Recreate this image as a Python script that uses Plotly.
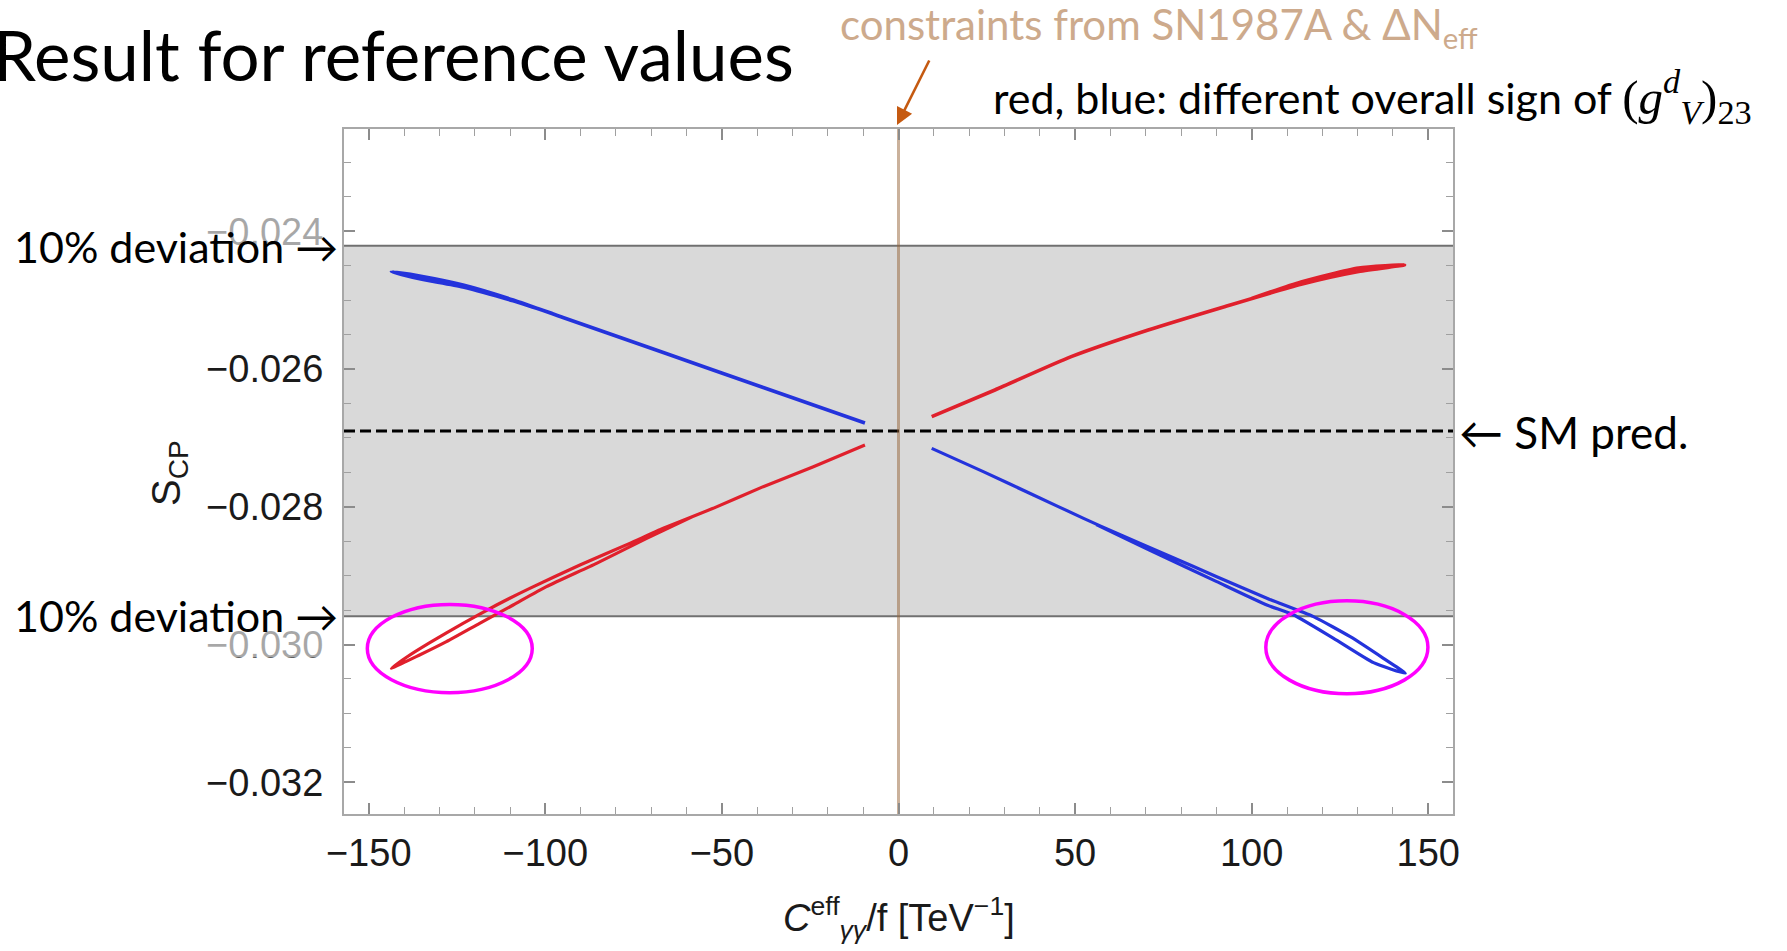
import plotly.graph_objects as go

# ---------------- data ----------------
SM_PRED = -0.0269            # dashed line, SM prediction of S_CP
BAND_UPPER = -0.02421        # +10 % deviation
BAND_LOWER = -0.02959        # -10 % deviation

# blue, negative C (upper-left branch; slightly thickened loop at its far end)
blue_left_x = [-9.5, -24.1, -38.3, -52.5, -66.6, -80.8, -95.0, -109.1, -123.3, -135.6, -143.6,
               -135.6, -123.3, -109.1, -98.0]
blue_left_y = [-0.026784, -0.026523, -0.026269, -0.026015, -0.025760, -0.025506, -0.025252,
               -0.024998, -0.024781, -0.024650, -0.024588,
               -0.024690, -0.024808, -0.025010, -0.025195]

# blue, positive C (lower-right branch, thin loop: out along one strand, back along the other)
blue_right_x = [9.4, 24.0, 38.2, 52.4, 61.8, 76.0, 90.1, 104.3, 117.5, 127.9, 137.3, 143.5,
                134.5, 123.2, 111.9, 104.3, 90.1, 76.0, 66.0, 56.0]
blue_right_y = [-0.027152, -0.027490, -0.027829, -0.028168, -0.028385, -0.028700, -0.029015,
                -0.029329, -0.029595, -0.029886, -0.030200, -0.030418,
                -0.030263, -0.029910, -0.029571, -0.029426, -0.029087, -0.028748, -0.028505,
                -0.028260]

# red, negative C (lower-left branch, thin loop)
red_left_x = [-9.5, -24.1, -38.3, -52.5, -66.6, -76.1, -90.2, -104.4, -113.8, -123.3, -132.7,
              -139.3, -143.6, -135.6, -128.0, -118.6, -109.1, -99.7, -85.5, -71.3, -58.0]
red_left_y = [-0.027103, -0.027418, -0.027708, -0.028023, -0.028313, -0.028531, -0.028845,
              -0.029184, -0.029426, -0.029692, -0.029973, -0.030185, -0.030345,
              -0.030152, -0.029958, -0.029692, -0.029426, -0.029160, -0.028821, -0.028458, -0.028136]

# red, positive C (upper-right branch; slightly thickened loop at its far end)
red_right_x = [9.4, 27.3, 48.9, 70.7, 92.3, 114.0, 130.3, 143.3, 130.3, 114.0, 100.0]
red_right_y = [-0.026692, -0.026305, -0.025821, -0.025434, -0.025095, -0.024770, -0.024585,
               -0.024490, -0.024535, -0.024735, -0.024975]

# axes ticks
x_tick_vals = [-150, -100, -50, 0, 50, 100, 150]
x_tick_text = ["\u2212150", "\u2212100", "\u221250", "0", "50", "100", "150"]
y_tick_vals = [-0.024, -0.026, -0.028, -0.030, -0.032]
y_tick_text = ["\u22120.024", "\u22120.026", "\u22120.028", "\u22120.030", "\u22120.032"]
x_minor_vals = [v for v in range(-150, 151, 10)]
y_minor_vals = [round(-0.0225 - 0.0005 * i, 5) for i in range(0, 21)]

X_RANGE = [-157.0, 157.0]
Y_RANGE = [-0.03246, -0.022516]

# ---------------- layout geometry ----------------
W, H = 1787, 951
ML, MR, MT, MB = 344, 334, 129, 137
PW, PH = W - ML - MR, H - MT - MB


def pxx(p):
    return (p - ML) / PW


def pxy(p):
    return 1 - (p - MT) / PH


BLUE = "#2433dc"
RED = "#e0202c"
SLIDE_FONT = "Lato, Carlito, 'Open Sans', sans-serif"
MATH_FONT = "'Liberation Sans', Arial, Helvetica, sans-serif"

fig = go.Figure()

fig.add_trace(go.Scatter(x=blue_left_x, y=blue_left_y, mode="lines",
                         line=dict(color=BLUE, width=3.6, shape="spline", smoothing=0.6),
                         hoverinfo="skip", showlegend=False))
fig.add_trace(go.Scatter(x=blue_right_x, y=blue_right_y, mode="lines",
                         line=dict(color=BLUE, width=3.2, shape="spline", smoothing=0.5),
                         hoverinfo="skip", showlegend=False))
fig.add_trace(go.Scatter(x=red_left_x, y=red_left_y, mode="lines",
                         line=dict(color=RED, width=3.2, shape="spline", smoothing=0.5),
                         hoverinfo="skip", showlegend=False))
fig.add_trace(go.Scatter(x=red_right_x, y=red_right_y, mode="lines",
                         line=dict(color=RED, width=3.6, shape="spline", smoothing=0.6),
                         hoverinfo="skip", showlegend=False))

# grey +-10 % band
fig.add_shape(type="rect", xref="paper", x0=0, x1=1, yref="y", y0=BAND_LOWER, y1=BAND_UPPER,
              fillcolor="#d9d9d9", line_width=0, layer="below")
for yv in (BAND_UPPER, BAND_LOWER):
    fig.add_shape(type="line", xref="paper", x0=0, x1=1, yref="y", y0=yv, y1=yv,
                  line=dict(color="#707070", width=2), layer="below")
# SM prediction
fig.add_shape(type="line", xref="paper", x0=0, x1=1, yref="y", y0=SM_PRED, y1=SM_PRED,
              line=dict(color="black", width=3, dash="11px,5px"), layer="below")
# constraint line at C = 0
fig.add_shape(type="line", xref="x", x0=0, x1=0, yref="paper", y0=0, y1=1,
              line=dict(color="rgba(150,100,55,0.5)", width=3), layer="below")

# magenta ellipses
fig.add_shape(type="circle", xref="x", yref="y", x0=-150.4, x1=-103.7, y0=-0.030699, y1=-0.029417,
              line=dict(color="#ff00ff", width=3.5), layer="above")
fig.add_shape(type="circle", xref="x", yref="y", x0=104.0, x1=149.9, y0=-0.030714, y1=-0.029366,
              line=dict(color="#ff00ff", width=3.5), layer="above")

ann = []
# title
ann.append(dict(text="Result for reference values", xref="paper", yref="paper",
                x=pxx(-9), y=pxy(54), xanchor="left", yanchor="middle", showarrow=False,
                font=dict(family=SLIDE_FONT, size=69, color="black")))
# constraints text
ann.append(dict(text="constraints from SN1987A &amp; \u0394N<sub>eff</sub>", xref="paper", yref="paper",
                x=pxx(838), y=pxy(27), xanchor="left", yanchor="middle", showarrow=False,
                font=dict(family=SLIDE_FONT, size=42, color="#cdaa8c")))
# orange arrow
ann.append(dict(text="", xref="paper", yref="paper", x=pxx(897), y=pxy(125),
                ax=33, ay=-66, axref="pixel", ayref="pixel", showarrow=True,
                arrowhead=2, arrowsize=1.3, arrowwidth=2.6, arrowcolor="#c55a11"))
# red/blue explanation
ann.append(dict(text=("red, blue: different overall sign of "
                      "<span style='font-family:Liberation Serif, DejaVu Serif, serif;font-size:49px'>"
                      "(<i>g</i><sup><i>d</i></sup><sub><i>V</i></sub>)<sub>23</sub></span>"),
                xref="paper", yref="paper", x=pxx(991), y=pxy(96), xanchor="left", yanchor="middle",
                showarrow=False, font=dict(family=SLIDE_FONT, size=43, color="black")))
# 10 % deviation labels with semi-transparent white boxes
for yc in (246, 615):
    ann.append(dict(text=" ", xref="paper", yref="paper", x=pxx(4), y=pxy(yc),
                    xanchor="left", yanchor="middle", showarrow=False, width=336, height=84,
                    bgcolor="rgba(255,255,255,0.62)", borderpad=0,
                    font=dict(size=10)))
    ann.append(dict(text="10% deviation \u2192", xref="paper", yref="paper", x=pxx(12), y=pxy(yc),
                    xanchor="left", yanchor="middle", showarrow=False,
                    font=dict(family=SLIDE_FONT, size=43, color="black")))
# SM pred label
ann.append(dict(text="\u2190 SM pred.", xref="paper", yref="paper", x=pxx(1457), y=pxy(432),
                xanchor="left", yanchor="middle", showarrow=False,
                font=dict(family=SLIDE_FONT, size=44, color="black")))
# axis titles
ann.append(dict(text="S<sub>CP</sub>", xref="paper", yref="paper", x=pxx(169), y=pxy(473),
                xanchor="center", yanchor="middle", textangle=-90, showarrow=False,
                font=dict(family=MATH_FONT, size=40, color="#1a1a1a")))
ann.append(dict(text="<i>C</i><sup>eff</sup><sub><i>\u03b3\u03b3</i></sub>/f [TeV<sup>\u22121</sup>]",
                xref="paper", yref="paper", x=pxx(899), y=pxy(918),
                xanchor="center", yanchor="middle", showarrow=False,
                font=dict(family=MATH_FONT, size=38, color="#1a1a1a")))

axis_common = dict(showgrid=False, zeroline=False, showline=True, mirror="allticks",
                   linecolor="#a8a8a8", linewidth=2, ticks="inside", ticklen=11,
                   tickwidth=1.5, tickcolor="#8c8c8c",
                   tickfont=dict(family=MATH_FONT, size=38, color="#1a1a1a"))

fig.update_layout(
    width=W, height=H, margin=dict(l=ML, r=MR, t=MT, b=MB, pad=0),
    paper_bgcolor="white", plot_bgcolor="white", showlegend=False,
    xaxis=dict(range=X_RANGE, tickmode="array", tickvals=x_tick_vals, ticktext=x_tick_text,
               minor=dict(tickmode="array", tickvals=x_minor_vals, ticks="inside", ticklen=7,
                          tickwidth=1.2, tickcolor="#a0a0a0"),
               ticklabelstandoff=4, **axis_common),
    yaxis=dict(range=Y_RANGE, tickmode="array", tickvals=y_tick_vals, ticktext=y_tick_text,
               minor=dict(tickmode="array", tickvals=y_minor_vals, ticks="inside", ticklen=7,
                          tickwidth=1.2, tickcolor="#a0a0a0"),
               ticklabelstandoff=11, **axis_common),
    annotations=ann,
)

fig.write_html("out.html", config={"displayModeBar": False},
               post_script="document.body.style.margin='0';document.body.style.overflow='hidden';")
